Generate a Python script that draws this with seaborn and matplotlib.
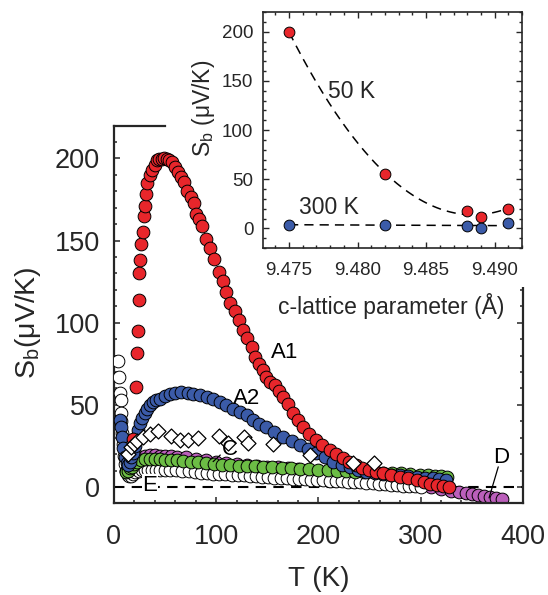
import numpy as np
import pandas as pd
import matplotlib
matplotlib.use("Agg")
import matplotlib.pyplot as plt
import seaborn as sns
from matplotlib.patches import Rectangle
from matplotlib.ticker import MultipleLocator, FormatStrFormatter

# ---------------- data ----------------
T_A1 = [19, 21.5, 22.2, 23.2, 24.4, 24.8, 25.4, 26.4, 28, 29.3,
        30.6, 31.3, 32.6, 35.2, 36.8, 40, 41.7, 44, 46.6, 49,
        51.5, 54, 56.4, 59.7, 63, 66, 68.5, 71.7, 75.3, 78.2,
        80.2, 83, 85.7, 89.6, 93.9, 97.8, 102.7, 106.3, 110, 114,
        118, 122, 126.5, 130.4, 135, 138.4, 142, 145.6, 149, 153,
        157.5, 161, 165.6, 170, 175.4, 180, 185, 191, 198, 204,
        211, 217, 224, 230, 237, 243, 250, 256, 263, 271,
        280, 288, 296, 303, 309, 316, 322, 328]
S_A1 = [29, 61, 81.6, 95, 114, 130, 138, 148, 155, 165,
        171, 178.5, 185, 189.7, 193, 195.7, 199, 199.5, 199.8, 200.5,
        199.8, 199, 197.8, 194.7, 191.7, 188.5, 185.6, 180, 176.5, 172.8,
        166.4, 163, 159, 151, 145.7, 138.6, 131, 125.4, 118.7, 112,
        107, 101.5, 95.8, 91, 85, 79, 75, 71, 67, 64,
        62, 58.5, 55, 50.5, 45, 41, 36.7, 32.5, 28.6, 25.5,
        22.5, 20, 17.4, 15.2, 13.4, 11.8, 10.3, 9.2, 8.3, 7.3,
        6.3, 5.3, 4.3, 3, 1.8, 1, 0.5, 0.2]

T_A2 = [5.9, 6.5, 7.5, 9.1, 10.8, 12.4, 14, 15.6, 17, 18.9,
        20.5, 22.2, 23.8, 25.4, 27.5, 30.3, 32.5, 35.2, 38, 41,
        45, 50, 54.8, 60, 66, 72, 77.6, 84, 90.6, 97,
        103.7, 110, 116.7, 123, 129.8, 136, 142, 149, 157, 165.6,
        174, 182, 190, 198, 206, 214.5, 223, 231, 239, 247,
        255, 263, 271, 280, 288, 296, 304, 312, 318, 325]
S_A2 = [40.7, 36.7, 30.6, 23.5, 18.4, 14.4, 13.5, 15.4, 18, 20.5,
        25, 30.6, 35, 38.7, 42, 44.8, 47.5, 49.8, 51.5, 53,
        53.9, 55.5, 56.5, 57.3, 57.6, 57.3, 56.5, 55.8, 54.9, 53.5,
        51.9, 50, 47.8, 45.8, 43.8, 41, 38.5, 36.7, 33.5, 30.6,
        28, 25.5, 23, 20.5, 18, 15.4, 13.6, 12, 10.6, 9.3,
        8.5, 7.9, 7.6, 7.3, 6.8, 6.3, 5.8, 5.3, 4.8, 4.3]

T_G = [12, 14, 16, 18, 20, 23, 26, 30, 35, 40,
       45, 50, 56, 62, 68, 75, 82, 90, 98, 106,
       114, 122, 130, 138, 146, 155, 164, 173, 182, 191,
       200, 209, 218, 227, 236, 245, 254, 263, 272, 281,
       290, 299, 307, 314, 320, 326]
S_G = [9, 10, 11.5, 12.5, 14, 15.4, 16.2, 16.8, 17, 17,
       16.9, 16.7, 16.4, 16.2, 15.8, 15.4, 15, 14.5, 14.1, 13.7,
       13.3, 13, 12.8, 12.6, 12.3, 12, 11.8, 11.5, 11.2, 10.9,
       10.6, 10.3, 10, 9.7, 9.3, 9.1, 8.9, 8.7, 8.5, 8.3,
       8, 7.6, 7.2, 6.8, 6.5, 6.3]

T_D = [12, 15, 18, 21, 25, 30, 35, 40, 45, 50,
       56, 62, 70, 80, 90, 100, 110, 120, 130, 140,
       150, 160, 170, 180, 190, 200, 210, 220, 230, 240,
       250, 260, 270, 280, 290, 300, 310, 320, 330, 338,
       344, 350, 356, 362, 368, 374, 380]
S_D = [10, 13, 15.5, 17, 18.3, 19, 19.3, 19.3, 19.2, 19,
       18.7, 18.4, 18, 17.3, 16.5, 15.5, 14.8, 14.1, 13.5, 13,
       12.5, 12, 11.5, 11, 10.5, 10, 9.4, 8.8, 8.2, 7.4,
       6.5, 5.5, 4.5, 3.5, 2.5, 1.3, 0.2, -1, -2.3, -3.3,
       -3.8, -4.3, -4.9, -5.5, -6.1, -6.7, -7.3]

T_E = [4.2, 5.2, 5.9, 6.5, 6.8, 7.2, 7.8, 8.5, 9.5, 10.5,
       12, 13.5, 15, 17, 19, 21, 24, 27, 30, 33,
       37, 41, 45, 50, 55, 61, 67, 73, 79, 85,
       91, 97, 103, 109, 115, 121, 127, 133, 139, 145,
       151, 157, 163, 169, 175, 181, 187, 193, 199, 205,
       211, 217, 223, 229, 235, 241, 247, 253, 259, 265,
       271, 277, 283, 289, 295, 300]
S_E = [77, 67, 57, 53, 45, 40, 33, 26, 19, 14,
       9.5, 7.5, 6.5, 7, 8, 9, 9.8, 10.3, 10.5, 10.6,
       10.6, 10.5, 10.3, 10.3, 10.3, 10.2, 9.9, 9.5, 9.2, 8.8,
       8.4, 8.2, 8, 7.8, 7.6, 7.4, 7.2, 6.8, 6.5, 6.2,
       6, 5.8, 5.5, 5.3, 5.1, 4.9, 4.7, 4.5, 4.3, 4.1,
       3.9, 3.7, 3.5, 3.3, 3.1, 2.9, 2.6, 2.3, 2.1, 1.8,
       1.5, 1.2, 0.9, 0.6, 0.4, 0.2]

T_C = [14, 17, 20, 22.5, 28.7, 35, 43, 56, 64.5, 72.7,
       82.5, 103, 112, 127, 131, 156, 192, 234, 254]
S_C = [20, 24.5, 26, 28, 30.6, 32.6, 34, 30.8, 28.6, 28.8,
       30, 30.8, 27, 30.4, 27, 26, 19.5, 14.6, 14.4]

# inset
c_lat = [9.475, 9.482, 9.488, 9.489, 9.491]
S_50K = [200, 55, 18, 12, 20]
S_300K = [4, 4, 2, 0, 6]

# ---------------- style ----------------
sns.set_theme(style="ticks")
plt.rcParams['font.family'] = ['Liberation Sans', 'DejaVu Sans']
plt.rcParams['mathtext.default'] = 'regular'

RED = '#e8262b'
BLUE = '#3b5ba8'
GREEN = '#6cbd45'
MAGENTA = '#bb5fbb'

fig = plt.figure(figsize=(5.48, 5.95), dpi=100)
ax = fig.add_axes([0.208, 0.1546, 0.746, 0.633])


def scat(a, T, S, color, z, marker='o', s=84, lw=0.7):
    df = pd.DataFrame({'T': T, 'S': S})
    sns.scatterplot(data=df, x='T', y='S', ax=a, color=color, marker=marker,
                    s=s, edgecolor='black', linewidth=lw, zorder=z, legend=False)


ax.axhline(0, color='black', lw=1.5, ls=(0, (5, 3.5)), zorder=1)
scat(ax, T_D, S_D, MAGENTA, 2)
scat(ax, T_E, S_E, 'white', 3)
scat(ax, T_G, S_G, GREEN, 4)
scat(ax, T_A2, S_A2, BLUE, 5)
scat(ax, T_A1, S_A1, RED, 6)
scat(ax, T_C, S_C, 'white', 7, marker='D', s=58, lw=0.9)

ax.set_xlim(0, 400)
ax.set_ylim(-9.7, 219.5)
ax.xaxis.set_major_locator(MultipleLocator(100))
ax.xaxis.set_minor_locator(MultipleLocator(20))
ax.yaxis.set_major_locator(MultipleLocator(50))
ax.yaxis.set_minor_locator(MultipleLocator(10))
ax.tick_params(which='both', direction='in', top=False, right=True,
               width=1.1, labelsize=19.5)
ax.tick_params(which='major', length=4.5)
ax.tick_params(which='minor', length=2.5)
ax.tick_params(axis='x', pad=15)
ax.tick_params(axis='y', pad=10)
for sp in ax.spines.values():
    sp.set_linewidth(1.6)
ax.spines['top'].set_bounds(0, 50)
ax.spines['right'].set_bounds(-9.7, 121)

ax.set_xlabel('T (K)', fontsize=20)
ax.xaxis.set_label_coords(0.5, -0.166)
ax.xaxis.label.set_va('top')
ax.set_ylabel('S$_b$(μV/K)', fontsize=20.5)
ax.yaxis.set_label_coords(-0.173, 0.48)

lab = dict(fontsize=16, color='black', zorder=10)
ax.text(167, 82, 'A1', ha='center', va='center', **lab)
ax.text(130, 54, 'A2', ha='center', va='center', **lab)
ax.text(113, 23, 'C', ha='center', va='center', **lab)
ax.plot([104, 97], [19.5, 15.5], color='black', lw=0.9, zorder=10)
ax.text(35, 1.0, 'E', ha='center', va='center',
        bbox=dict(facecolor='white', edgecolor='none', pad=0.5), **lab)
ax.text(378.5, 18, 'D', ha='center', va='center', **lab)
ax.plot([376, 367], [12.3, -6.6], color='black', lw=0.9, zorder=10)

# white cover behind inset (hides main frame there)
fig.add_artist(Rectangle((0.48, 0.5176), 0.52, 0.4824, transform=fig.transFigure,
                         facecolor='white', edgecolor='none', zorder=2))

# ---------------- inset ----------------
axi = fig.add_axes([0.480, 0.583, 0.4726, 0.3966])
axi.set_zorder(3)
axi.set_facecolor('white')

xs = np.linspace(min(c_lat), max(c_lat), 200)
p50 = np.polyfit(c_lat, S_50K, 2)
p300 = np.polyfit(c_lat, S_300K, 1)
axi.plot(xs, np.polyval(p50, xs), color='black', lw=1.1, ls=(0, (6, 4)), zorder=1)
axi.plot(xs, np.polyval(p300, xs), color='black', lw=1.1, ls=(0, (6, 4)), zorder=1)
scat(axi, c_lat, S_50K, RED, 3, s=60)
scat(axi, c_lat, S_300K, BLUE, 3, s=60)

axi.set_xlim(9.4731, 9.4920)
axi.set_ylim(-20, 220)
axi.xaxis.set_major_locator(MultipleLocator(0.005))
axi.xaxis.set_minor_locator(MultipleLocator(0.001))
axi.xaxis.set_major_formatter(FormatStrFormatter('%.3f'))
axi.yaxis.set_major_locator(MultipleLocator(50))
axi.yaxis.set_minor_locator(MultipleLocator(10))
axi.tick_params(which='both', direction='in', top=True, right=True,
                width=1.0, labelsize=13.5)
axi.tick_params(which='major', length=4)
axi.tick_params(which='minor', length=2.2)
axi.tick_params(axis='x', pad=10)
axi.tick_params(axis='y', pad=7)
for sp in axi.spines.values():
    sp.set_linewidth(1.2)

axi.set_xlabel('c-lattice parameter (Å)', fontsize=16.5)
axi.xaxis.set_label_coords(0.494, -0.19)
axi.xaxis.label.set_va('top')
axi.set_ylabel('S$_b$ (μV/K)', fontsize=16.5)
axi.yaxis.set_label_coords(-0.178, 0.593)

axi.text(9.47959, 139, '50 K', fontsize=16.5, ha='center', va='center')
axi.text(9.47789, 21, '300 K', fontsize=16.5, ha='center', va='center')

fig.savefig('out.png', dpi=100)
